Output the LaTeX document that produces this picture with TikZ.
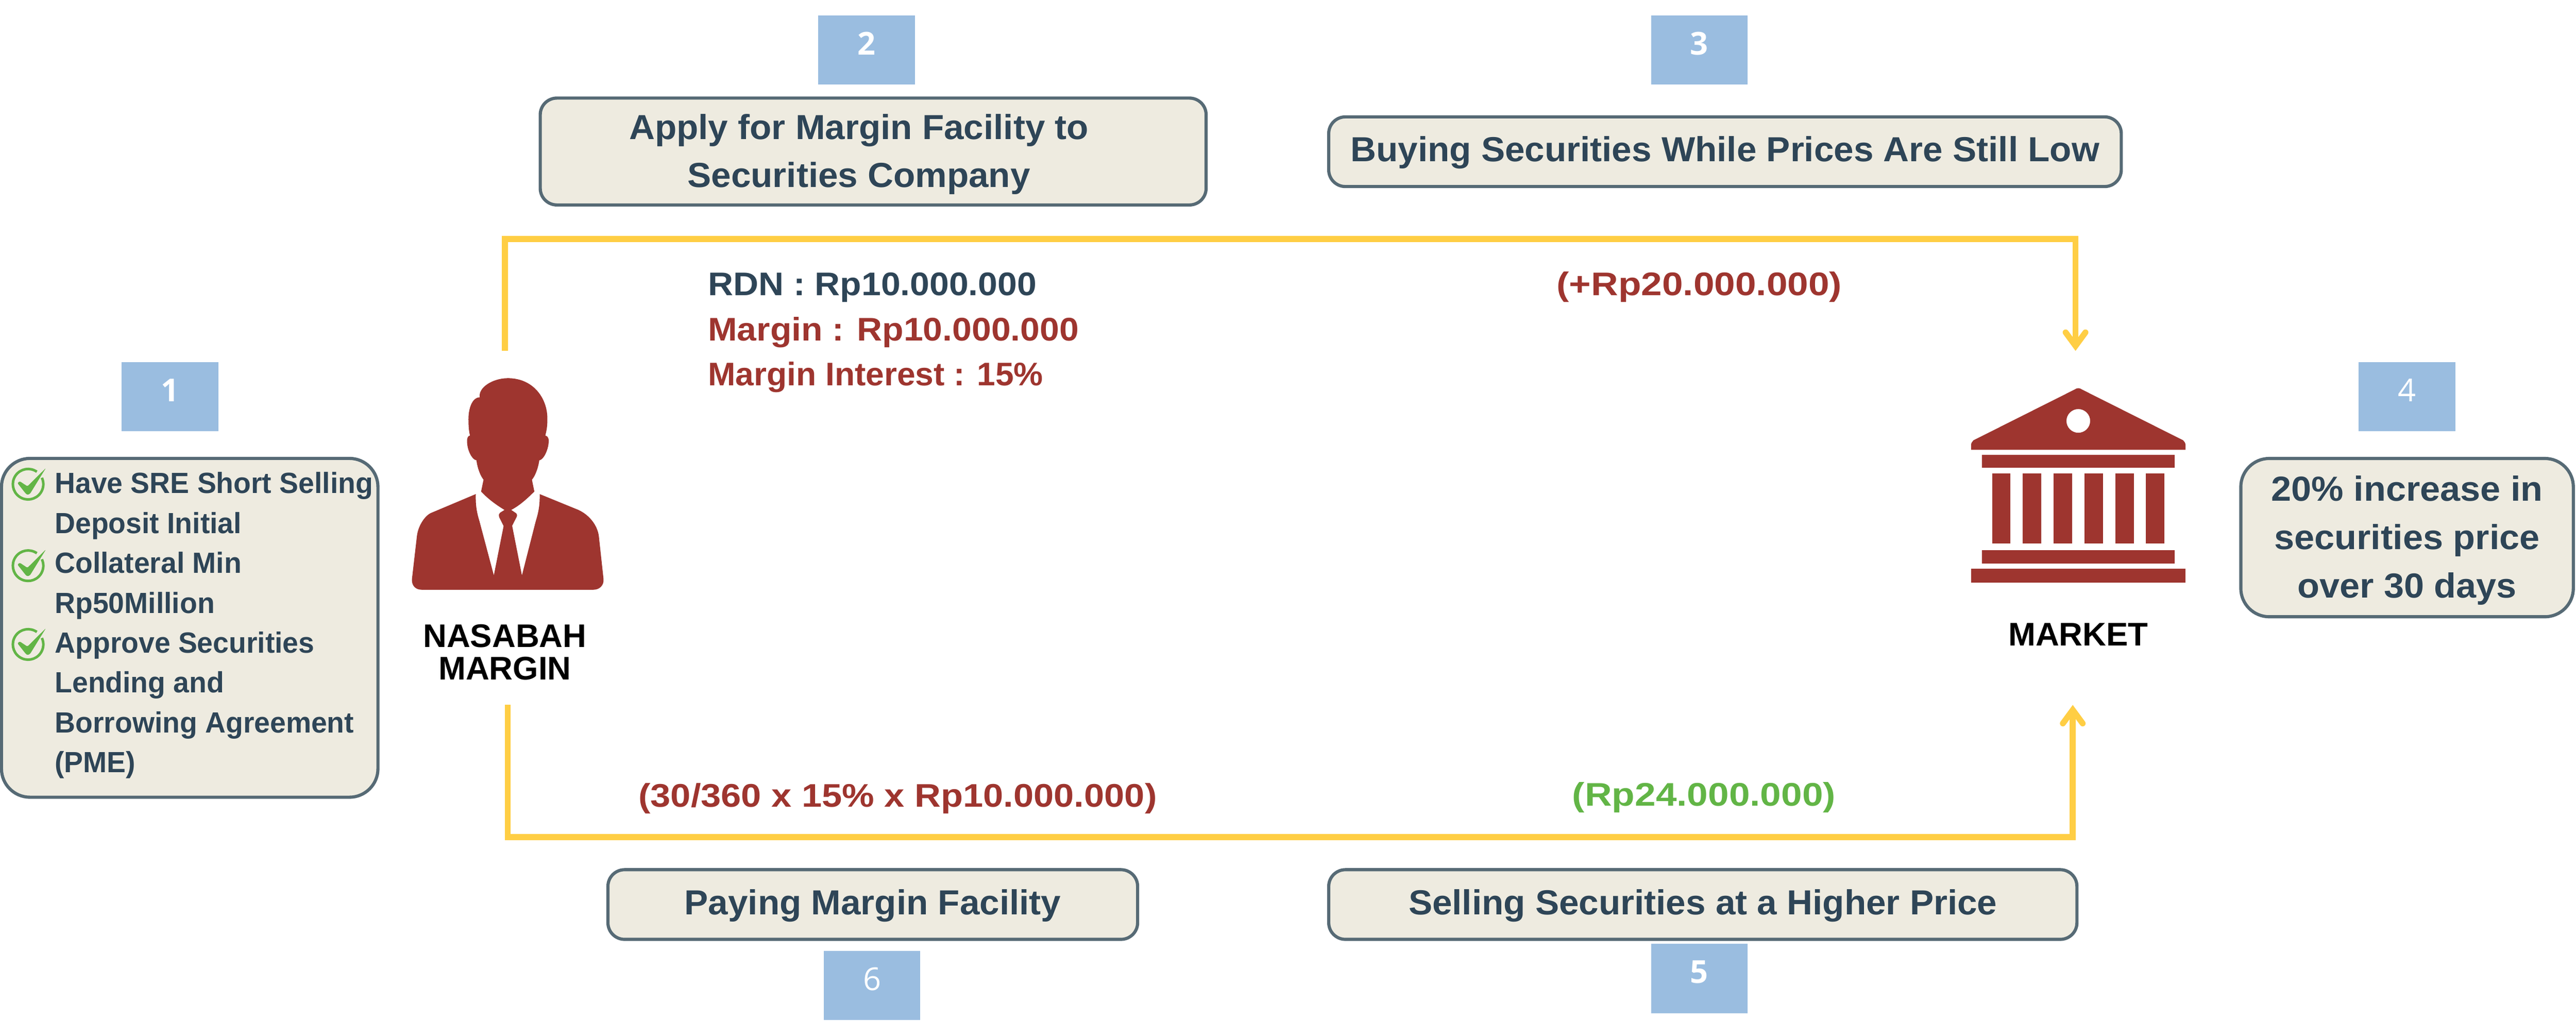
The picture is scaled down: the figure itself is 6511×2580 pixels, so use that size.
\documentclass[tikz,border=0pt]{standalone}
\usepackage{fontspec}
\setmainfont{Liberation Sans}
\newfontfamily\digitfont{Open Sans}
\usetikzlibrary{arrows.meta}

\definecolor{inkblue}{HTML}{2E4557}
\definecolor{brick}{HTML}{9E352F}
\definecolor{leaf}{HTML}{62B546}
\definecolor{railyellow}{HTML}{FFCE44}
\definecolor{badgeblue}{HTML}{9ABDE0}
\definecolor{paper}{HTML}{EEEBE0}
\definecolor{edge}{HTML}{566A75}

\newcommand{\boxstrut}{\rule[-.18cm]{0pt}{.96cm}}
\newcommand{\widened}[1]{\addfontfeature{FakeStretch=#1}}

\tikzset{
  badge/.style={fill=badgeblue,text=white,minimum width=2.44cm,minimum height=1.75cm,inner sep=0pt,
    text height=.57cm,text depth=.33cm,font=\digitfont\fontsize{22.7}{24}\selectfont},
  stepbox/.style={draw=edge,fill=paper,line width=.08cm,rounded corners=.42cm,inner sep=0pt,text=inkblue,
    align=center,font=\bfseries\fontsize{25}{34.7}\selectfont\widened{1.025}},
  flatbox/.style={stepbox,minimum height=1.76cm,text height=.6cm,text depth=.1cm},
  bigbox/.style={stepbox,rounded corners=.72cm,font=\bfseries\fontsize{25}{34.7}\selectfont\widened{1.04}},
  sum/.style={anchor=base,inner sep=0pt,font=\bfseries\fontsize{23.5}{28}\selectfont\widened{1.15}},
  rate/.style={sum,anchor=base west,font=\bfseries\fontsize{23.5}{28}\selectfont\widened{1.07}},
  who/.style={inner sep=0pt,align=center,text=black,font=\bfseries\fontsize{23.5}{23.3}\selectfont},
  flow/.style={draw=railyellow,line width=.15cm,
    -{Straight Barb[length=.34cm,width=.5cm,line cap=round,line join=miter]}},
  okmark/.pic={
    \draw[leaf,line width=.065cm] (0,0) ++(55:.385cm) arc[start angle=55,end angle=385,radius=.385cm];
    \fill[leaf,rounded corners=.03cm] (-27,-3) -- (-21,-7.5) -- (-1.7,5.3) -- (45,-41) -- (5,24) -- (-1.3,27) -- (-5.7,24) -- cycle;
  }
}

\begin{document}
\begin{tikzpicture}[x=0.01cm,y=-0.01cm]
\useasboundingbox (0,0) rectangle (6511,2580);

% flow rails
\coordinate (nasabahtop) at (1276,887);
\coordinate (nasabahbot) at (1283,1782);
\coordinate (markettop) at (5246,887);
\coordinate (marketbot) at (5239,1782);
\coordinate (toprail) at (3000,604);
\coordinate (bottomrail) at (3000,2116);
\draw[flow] (nasabahtop) |- (toprail) -| (markettop);
\draw[flow] (nasabahbot) |- (bottomrail) -| (marketbot);

% numbers
\node[badge] (badgeone) at (430,1003) {\bfseries 1};
\node[badge] (badgetwo) at (2190,126.5) {\bfseries 2};
\node[badge] (badgethree) at (4295,126.5) {\bfseries 3};
\node[badge] (badgefour) at (6084,1003) {4};
\node[badge] (badgefive) at (4295,2473.5) {\bfseries 5};
\node[badge] (badgesix) at (2204,2491) {6};

% text boxes
\node[bigbox,minimum width=9.51cm,minimum height=8.56cm] (reqbox) at (479.5,1587) {};
\node[anchor=west,inner sep=0pt,align=left,text=inkblue,font=\bfseries\fontsize{21}{28.65}\selectfont\widened{.975}] (reqtext) at (138,1581)
  {Have SRE Short Selling\\Deposit Initial\\Collateral Min\\Rp50Million\\Approve Securities\\Lending and\\Borrowing Agreement\\(PME)};
\pic at (71,1224) {okmark};
\pic at (71,1430) {okmark};
\pic at (71,1629) {okmark};

\node[stepbox,minimum width=16.82cm,minimum height=2.7cm] (applybox) at (2207,383)
  {\boxstrut Apply for Margin Facility to\hspace*{.72cm}\\\boxstrut Securities Company\hspace*{.72cm}};
\node[flatbox,minimum width=20.02cm] (buybox) at (4360,383.5) {Buying Securities While Prices Are Still Low};
\node[bigbox,minimum width=8.4cm,minimum height=4cm] (risebox) at (6084,1359)
  {\boxstrut 20\% increase in\\securities price\\\boxstrut over 30 days};
\node[flatbox,minimum width=18.9cm] (sellbox) at (4304,2286.5) {Selling Securities at a Higher Price};
\node[flatbox,minimum width=13.38cm] (paybox) at (2206,2286.5) {Paying Margin Facility};

% amounts
\node[rate,text=inkblue] (rdn) at (1789,747) {RDN : Rp10.000.000};
\node[rate,text=brick] (margin) at (1789,862) {Margin : Rp10.000.000};
\node[rate,text=brick,font=\bfseries\fontsize{23.5}{28}\selectfont\widened{1.01}] (interest) at (1789,975) {Margin Interest : 15\%};
\node[sum,text=brick] (buyamount) at (4295,747) {(+Rp20.000.000)};
\node[sum,text=brick,font=\bfseries\fontsize{23.5}{28}\selectfont\widened{1.11}] (payamount) at (2269,2040) {(30/360 x 15\% x Rp10.000.000)};
\node[sum,text=leaf] (sellamount) at (4307,2037) {(Rp24.000.000)};

% person
\begin{scope}[shift={(1020,940)}]
\fill[brick] (263.7,16) .. controls (330,16) and (366,70) .. (363.4,123.6)
  .. controls (363.4,140) and (361,150) .. (358.3,161)
  .. controls (366,162) and (368,172) .. (366.8,178)
  .. controls (366,195) and (355,222) .. (343.1,223.6)
  .. controls (340,245) and (332,264) .. (324.5,272.6)
  -- (330.6,302.4)
  .. controls (315,318) and (295,337) .. (272.1,349)
  -- (284,357) .. controls (288,360) and (287,365) .. (285.7,367)
  -- (274.5,389) -- (299.2,514.4)
  -- (334,378) .. controls (342,352) and (344.5,335) .. (344.1,309)
  -- (442,349) .. controls (470,362) and (490,388) .. (493.6,415)
  -- (505.4,523.4) .. controls (507,540) and (495,550.7) .. (480,550.7)
  -- (45.6,550.7) .. controls (30,550.7) and (20,540) .. (21.3,523.4)
  -- (33.8,415) .. controls (37,388) and (55,362) .. (71,356)
  -- (182.6,309) .. controls (182,335) and (184,352) .. (192,378)
  -- (228.2,514.4) -- (252.9,389.7)
  -- (242,368) .. controls (240,362) and (241,358) .. (244,356)
  -- (255.2,349)
  .. controls (235,337) and (212,320) .. (196,302.4)
  -- (202.2,272.6)
  .. controls (195,264) and (187,245) .. (184.2,223.6)
  .. controls (172,222) and (160,195) .. (160.6,175)
  .. controls (160,168) and (163,161) .. (168,161)
  .. controls (165,150) and (164,135) .. (164,120)
  .. controls (164,95) and (172,65) .. (192.7,64.3)
  .. controls (188,40) and (225,16) .. (263.7,16) -- cycle;
\end{scope}
\node[who] (nasabahlabel) at (1276,1649) {NASABAH\\MARGIN};

% building
\fill[brick,even odd rule] (4982,1137) -- (4982,1125) .. controls (4982,1120) and (4985,1116) .. (4988,1113)
  -- (5243,985) .. controls (5250,980) and (5256,980) .. (5263,985)
  -- (5518,1113) .. controls (5521,1116) and (5524,1120) .. (5524,1125) -- (5524,1137) -- cycle
  (5253,1064) circle[radius=.3cm];
\fill[brick] (5010,1150) rectangle (5496,1183);
\foreach \colx in {5035,5113,5191,5269,5347,5424}
  \fill[brick] (\colx,1197) rectangle (\colx+46,1374);
\fill[brick] (5010,1391) rectangle (5496,1425);
\fill[brick] (4982,1438) rectangle (5524,1473);
\node[who,anchor=base] (marketlabel) at (5253,1632) {MARKET};
\end{tikzpicture}
\end{document}
